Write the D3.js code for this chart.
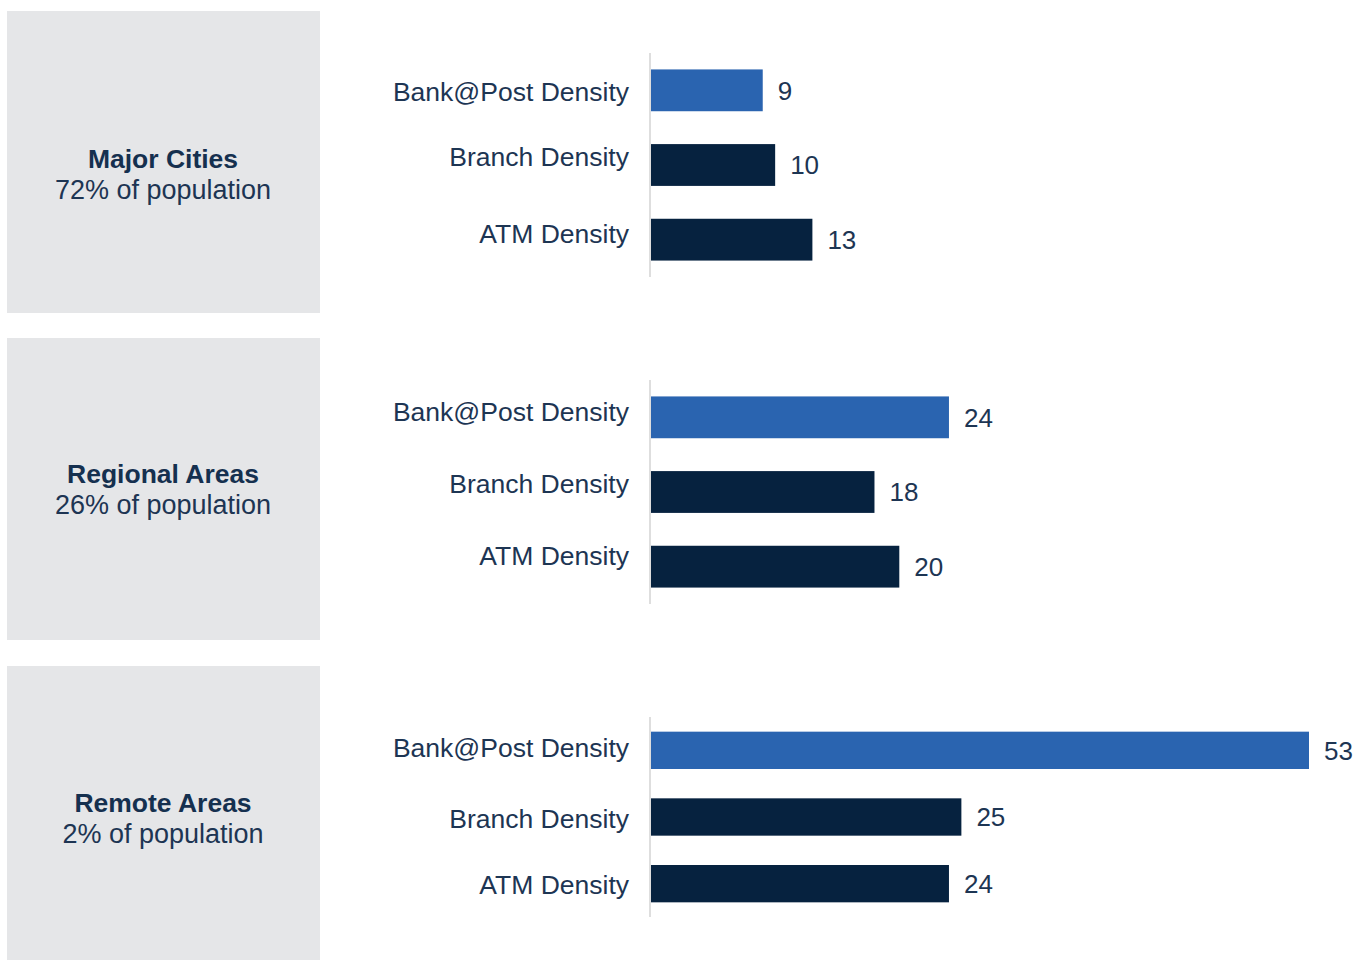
<!DOCTYPE html>
<html><head><meta charset="utf-8">
<script src="https://cdn.jsdelivr.net/npm/d3@7"></script>
<style>body{margin:0;background:#fff} svg{display:block}</style>
</head><body>
<svg id="chart" width="1369" height="960"></svg>
<script>
// ---- data ----
const regions = ["Major Cities", "Regional Areas", "Remote Areas"];
const populationShares = ["72% of population", "26% of population", "2% of population"];
const metrics = ["Bank@Post Density", "Branch Density", "ATM Density"];
const bankPostValues = [9, 24, 53];
const branchValues = [10, 18, 25];
const atmValues = [13, 20, 24];

// ---- layout (not data) ----
const panelLayout = [
  {boxTop: 11,  boxBottom: 313, axisTop: 53,  axisBottom: 277, titleY: 168, labelShift: [2, -7, -5]},
  {boxTop: 338, boxBottom: 640, axisTop: 380, axisBottom: 604, titleY: 483, labelShift: [-5, -7, -10]},
  {boxTop: 666, boxBottom: 960, axisTop: 717, axisBottom: 917, titleY: 812, labelShift: [-2, 3, 2]}
];
const FONT = "'Liberation Sans', Arial, Helvetica, sans-serif";
const textColor = "#1d3553";

const svg = d3.select("#chart");
const x = d3.scaleLinear().domain([0, 53]).range([651, 1309]);
const color = d3.scaleOrdinal().domain(metrics).range(["#2a64b0", "#06223f", "#06223f"]);

regions.forEach((region, i) => {
  const L = panelLayout[i];
  const values = [bankPostValues[i], branchValues[i], atmValues[i]];
  const rows = metrics.map((m, j) => ({metric: m, value: values[j]}));
  const g = svg.append("g");

  // grey box
  g.append("rect")
    .attr("x", 7).attr("y", L.boxTop)
    .attr("width", 313).attr("height", L.boxBottom - L.boxTop)
    .attr("fill", "#e5e6e8");

  g.append("text")
    .attr("x", 163).attr("y", L.titleY)
    .attr("text-anchor", "middle")
    .attr("font-family", FONT).attr("font-weight", 700).attr("font-size", 26.5)
    .attr("fill", "#15304f")
    .text(region);
  g.append("text")
    .attr("x", 163).attr("y", L.titleY + 31)
    .attr("text-anchor", "middle")
    .attr("font-family", FONT).attr("font-size", 27)
    .attr("fill", textColor)
    .text(populationShares[i]);

  const y = d3.scaleBand().domain(metrics)
    .range([L.axisTop, L.axisBottom])
    .paddingInner(0.44).paddingOuter(0.22);

  // bars
  g.selectAll("rect.bar").data(rows).join("rect")
    .attr("class", "bar")
    .attr("x", x(0))
    .attr("y", d => y(d.metric))
    .attr("width", d => x(d.value) - x(0))
    .attr("height", y.bandwidth())
    .attr("fill", d => color(d.metric));

  // value labels
  g.selectAll("text.val").data(rows).join("text")
    .attr("class", "val")
    .attr("x", d => x(d.value) + 15)
    .attr("y", d => y(d.metric) + y.bandwidth() / 2)
    .attr("dy", "0.36em")
    .attr("font-family", FONT).attr("font-size", 26)
    .attr("fill", textColor)
    .text(d => d.value);

  // category axis
  const axis = g.append("g")
    .attr("transform", `translate(${x(0) - 1},0)`)
    .call(d3.axisLeft(y).tickSize(0).tickPadding(21));
  axis.select(".domain").remove();
  axis.selectAll(".tick text")
    .attr("y", (d, j) => L.labelShift[j])
    .attr("font-family", FONT).attr("font-size", 26.5)
    .attr("fill", textColor);

  g.append("line")
    .attr("x1", x(0) - 1).attr("x2", x(0) - 1)
    .attr("y1", L.axisTop).attr("y2", L.axisBottom)
    .attr("stroke", "#d3d3d3").attr("stroke-width", 1.5);
});
</script>
</body></html>
